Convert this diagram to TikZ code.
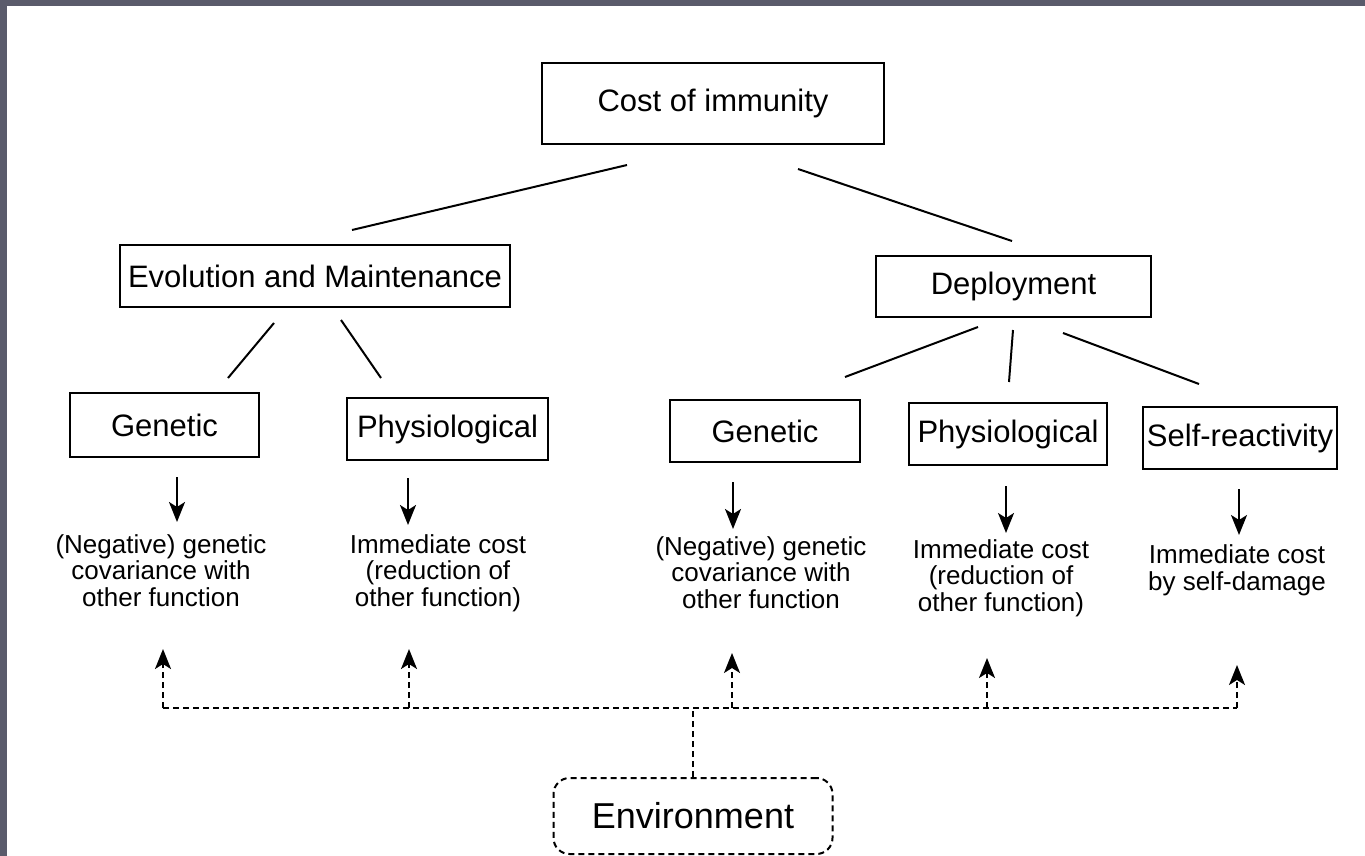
\documentclass[tikz,border=0pt]{standalone}
\usepackage{fontspec}
\setmainfont{Liberation Sans}
\usetikzlibrary{arrows.meta}
\definecolor{framegray}{HTML}{5A5B6B}
\begin{document}
\begin{tikzpicture}[x=1pt,y=-1pt,
  box/.style={draw, line width=2pt, inner sep=0pt, font=\fontsize{31}{36}\selectfont},
  desc/.style={align=center, font=\fontsize{26}{26.5}\selectfont, inner sep=0pt, anchor=base},
  link/.style={line width=2pt},
  arr/.style={line width=2pt, -{Stealth[length=20pt,width=16pt,inset=5pt]}},
  darr/.style={line width=2pt, dash pattern=on 6pt off 4pt, -{Stealth[length=20pt,width=16pt,inset=5pt]}},
  bus/.style={line width=2pt, dash pattern=on 6pt off 4pt},
  envbox/.style={draw, line width=2pt, dash pattern=on 6pt off 4pt, rounded corners=16pt, inner sep=0pt, font=\fontsize{36}{40}\selectfont}]
\fill[framegray] (0,0) rectangle (1365,856);
\fill[white] (7,6) rectangle (1365,856);
\useasboundingbox (0,0) rectangle (1365,856);

% boxes
\node[box, minimum width=342pt, minimum height=81pt] (cost) at (713,103.5) {Cost of immunity};
\node[box, minimum width=390pt, minimum height=62pt] (evo) at (315,276) {Evolution and Maintenance};
\node[box, minimum width=275pt, minimum height=61pt] (dep) at (1013.5,286.5) {Deployment};
\node[box, minimum width=189pt, minimum height=64pt] (gen1) at (164.5,425) {Genetic};
\node[box, minimum width=201pt, minimum height=62pt] (phy1) at (447.5,429) {Physiological};
\node[box, minimum width=190pt, minimum height=62pt] (gen2) at (765,431) {Genetic};
\node[box, minimum width=198pt, minimum height=62pt] (phy2) at (1008,434) {Physiological};
\node[box, minimum width=194pt, minimum height=62pt] (self) at (1240,438) {Self-reactivity};

% descriptions (anchor base = baseline of last line)
\node[desc] (t1) at (161,606) {(Negative) genetic\\covariance with\\other function};
\node[desc] (t2) at (438,606) {Immediate cost\\(reduction of\\other function)};
\node[desc] (t3) at (761,608) {(Negative) genetic\\covariance with\\other function};
\node[desc] (t4) at (1001,611) {Immediate cost\\(reduction of\\other function)};
\node[desc] (t5) at (1237,590) {Immediate cost\\by self-damage};

% environment
\node[envbox, minimum width=279pt, minimum height=76pt] (env) at (693,816) {Environment};

% tree links (free ends as coordinates)
\coordinate (c1a) at (627,165); \coordinate (c1b) at (352,230);
\coordinate (c2a) at (798,169); \coordinate (c2b) at (1012,241);
\coordinate (e1a) at (274,323); \coordinate (e1b) at (228,378);
\coordinate (e2a) at (341,320); \coordinate (e2b) at (381,378);
\coordinate (d1a) at (978,327); \coordinate (d1b) at (845,377);
\coordinate (d2a) at (1013,330); \coordinate (d2b) at (1009,382);
\coordinate (d3a) at (1063,333); \coordinate (d3b) at (1199,384);
\draw[link] (c1a) -- (c1b);
\draw[link] (c2a) -- (c2b);
\draw[link] (e1a) -- (e1b);
\draw[link] (e2a) -- (e2b);
\draw[link] (d1a) -- (d1b);
\draw[link] (d2a) -- (d2b);
\draw[link] (d3a) -- (d3b);

% solid arrows from boxes to descriptions
\coordinate (a1s) at (177,477); \coordinate (a1e) at (177,522);
\coordinate (a2s) at (408,478); \coordinate (a2e) at (408,525);
\coordinate (a3s) at (733,482); \coordinate (a3e) at (733,529);
\coordinate (a4s) at (1006,486); \coordinate (a4e) at (1006,533);
\coordinate (a5s) at (1239,489); \coordinate (a5e) at (1239,535);
\draw[arr] (a1s) -- (a1e);
\draw[arr] (a2s) -- (a2e);
\draw[arr] (a3s) -- (a3e);
\draw[arr] (a4s) -- (a4e);
\draw[arr] (a5s) -- (a5e);

% environment bus
\coordinate (b1) at (163,708); \coordinate (b2) at (409,708);
\coordinate (b3) at (732,708); \coordinate (b4) at (987,708);
\coordinate (b5) at (1237,708);
\coordinate (u1) at (163,649); \coordinate (u2) at (409,649);
\coordinate (u3) at (732,653); \coordinate (u4) at (987,658);
\coordinate (u5) at (1237,665);
\draw[bus] (env.north) -- (env.north |- b1);
\draw[bus] (b1) -- (b5);
\draw[darr] (b1) -- (u1);
\draw[darr] (b2) -- (u2);
\draw[darr] (b3) -- (u3);
\draw[darr] (b4) -- (u4);
\draw[darr] (b5) -- (u5);
\end{tikzpicture}
\end{document}
